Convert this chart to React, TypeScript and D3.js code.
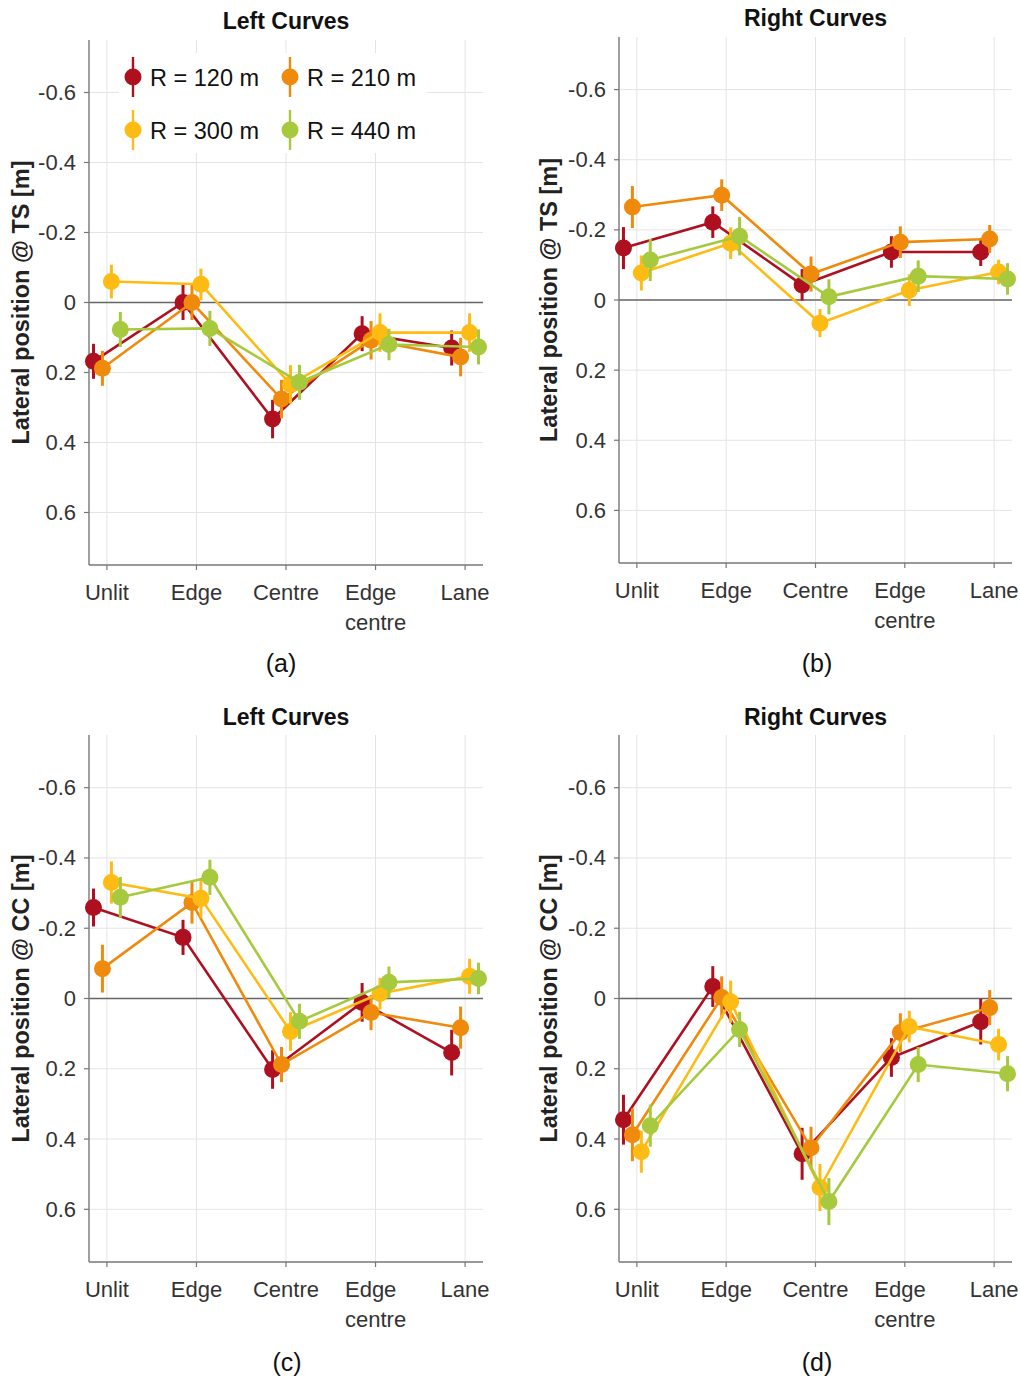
import React from "react";
import * as d3 from "d3";

// ---------- data ----------
const categories: string[][] = [["Unlit"], ["Edge"], ["Centre"], ["Edge", "centre"], ["Lane"]];
const seriesNames = ["R = 120 m", "R = 210 m", "R = 300 m", "R = 440 m"];
const seriesColors = ["#AE1020", "#EF8A0C", "#FDBB14", "#A6C93E"];
const yTicks = [-0.6, -0.4, -0.2, 0, 0.2, 0.4, 0.6];

// Lateral position @ TS, left curves (rows: R120, R210, R300, R440; cols: categories)
const leftTS = [
  [0.168, 0.0, 0.333, 0.089, 0.13],
  [0.188, 0.0, 0.276, 0.108, 0.156],
  [-0.06, -0.052, 0.234, 0.086, 0.086],
  [0.077, 0.074, 0.228, 0.12, 0.127],
];
const leftTSErr = [
  [0.05, 0.05, 0.055, 0.05, 0.05],
  [0.05, 0.05, 0.055, 0.055, 0.055],
  [0.048, 0.045, 0.055, 0.055, 0.055],
  [0.05, 0.05, 0.05, 0.045, 0.05],
];

// Lateral position @ TS, right curves
const rightTS = [
  [-0.148, -0.222, -0.043, -0.137, -0.137],
  [-0.265, -0.299, -0.074, -0.165, -0.174],
  [-0.077, -0.162, 0.066, -0.028, -0.08],
  [-0.114, -0.182, -0.009, -0.068, -0.06],
];
const rightTSErr = [
  [0.06, 0.045, 0.045, 0.045, 0.04],
  [0.06, 0.045, 0.05, 0.045, 0.04],
  [0.05, 0.045, 0.04, 0.045, 0.035],
  [0.06, 0.055, 0.05, 0.045, 0.045],
];

// Lateral position @ CC, left curves
const leftCC = [
  [-0.259, -0.174, 0.202, 0.011, 0.154],
  [-0.085, -0.273, 0.188, 0.04, 0.083],
  [-0.33, -0.285, 0.094, -0.014, -0.063],
  [-0.288, -0.345, 0.065, -0.046, -0.057],
];
const leftCCErr = [
  [0.054, 0.05, 0.055, 0.055, 0.065],
  [0.068, 0.06, 0.05, 0.05, 0.06],
  [0.06, 0.055, 0.055, 0.045, 0.05],
  [0.058, 0.05, 0.05, 0.045, 0.045],
];

// Lateral position @ CC, right curves
const rightCC = [
  [0.345, -0.034, 0.442, 0.168, 0.066],
  [0.388, -0.003, 0.425, 0.097, 0.026],
  [0.436, 0.009, 0.538, 0.08, 0.131],
  [0.362, 0.088, 0.578, 0.188, 0.214],
];
const rightCCErr = [
  [0.071, 0.058, 0.074, 0.055, 0.065],
  [0.075, 0.06, 0.06, 0.055, 0.05],
  [0.06, 0.06, 0.067, 0.045, 0.045],
  [0.06, 0.05, 0.067, 0.05, 0.05],
];

// ---------- drawing ----------
const FONT = "'Liberation Sans', Arial, Helvetica, sans-serif";
const offsets = [-0.15, -0.05, 0.05, 0.15];

let measureCtx: CanvasRenderingContext2D | null = null;
function textWidth(s: string, size: number): number {
  if (typeof document !== "undefined") {
    if (!measureCtx) measureCtx = document.createElement("canvas").getContext("2d");
    if (measureCtx) {
      measureCtx.font = `${size}px ${FONT}`;
      return measureCtx.measureText(s).width;
    }
  }
  return s.length * size * 0.5;
}

interface PanelProps {
  left: number;
  right: number;
  top: number;
  bottom: number;
  title: string;
  titleY: number;
  yLabel: string;
  yLabelX: number;
  caption: string;
  captionX: number;
  captionY: number;
  means: number[][];
  errs: number[][];
  legend?: boolean;
}

function Panel(p: PanelProps) {
  const x = d3.scaleLinear().domain([0.8, 5.2]).range([p.left, p.right]);
  const y = d3.scaleLinear().domain([-0.75, 0.75]).range([p.top, p.bottom]);
  const midY = (p.top + p.bottom) / 2;

  return (
    <g>
      {/* grid */}
      {yTicks.map((t) => (
        <line key={"gy" + t} x1={p.left} x2={p.right} y1={y(t)} y2={y(t)} stroke="#e4e4e4" strokeWidth={1} />
      ))}
      {categories.map((_, i) => (
        <line key={"gx" + i} x1={x(i + 1)} x2={x(i + 1)} y1={p.top} y2={p.bottom} stroke="#e4e4e4" strokeWidth={1} />
      ))}
      {/* zero line */}
      <line x1={p.left} x2={p.right} y1={y(0)} y2={y(0)} stroke="#666" strokeWidth={1.7} />
      {/* axes */}
      <line x1={p.left} x2={p.left} y1={p.top} y2={p.bottom} stroke="#777" strokeWidth={1.4} />
      <line x1={p.left} x2={p.right} y1={p.bottom} y2={p.bottom} stroke="#777" strokeWidth={1.4} />
      {yTicks.map((t) => (
        <g key={"yt" + t}>
          <line x1={p.left - 5} x2={p.left} y1={y(t)} y2={y(t)} stroke="#777" strokeWidth={1.2} />
          <text x={p.left - 13} y={y(t) + 7.5} textAnchor="end" fontSize={22} fill="#333" fontFamily={FONT}>
            {t === 0 ? "0" : t.toFixed(1)}
          </text>
        </g>
      ))}
      {categories.map((c, i) => {
        const maxW = Math.max(...c.map((s) => textWidth(s, 22)));
        const multi = c.length > 1;
        return (
          <g key={"xt" + i}>
            <line x1={x(i + 1)} x2={x(i + 1)} y1={p.bottom} y2={p.bottom + 5} stroke="#777" strokeWidth={1.2} />
            {c.map((s, j) => (
              <text
                key={j}
                x={multi ? x(i + 1) - maxW / 2 : x(i + 1)}
                y={p.bottom + 35 + j * 30}
                textAnchor={multi ? "start" : "middle"}
                fontSize={22}
                fill="#333"
                fontFamily={FONT}
              >
                {s}
              </text>
            ))}
          </g>
        );
      })}
      {/* title */}
      <text x={x(3)} y={p.titleY} textAnchor="middle" fontSize={23} fontWeight="bold" fill="#111" fontFamily={FONT}>
        {p.title}
      </text>
      {/* y label */}
      <text
        transform={`translate(${p.yLabelX},${midY}) rotate(-90)`}
        textAnchor="middle"
        fontSize={23.5}
        fontWeight="bold"
        fill="#222"
        fontFamily={FONT}
      >
        {p.yLabel}
      </text>
      {/* caption */}
      <text x={p.captionX} y={p.captionY} textAnchor="middle" fontSize={25} fill="#111" fontFamily={FONT}>
        {p.caption}
      </text>
      {/* series */}
      {p.means.map((vals, s) => {
        const off = offsets[s];
        const lx = d3
          .line<number>()
          .x((_, i) => x(i + 1 + off))
          .y((d) => y(d));
        return (
          <g key={"s" + s}>
            <path d={lx(vals) || ""} fill="none" stroke={seriesColors[s]} strokeWidth={2.6} />
            {vals.map((v, i) => (
              <g key={i}>
                <line
                  x1={x(i + 1 + off)}
                  x2={x(i + 1 + off)}
                  y1={y(v - p.errs[s][i])}
                  y2={y(v + p.errs[s][i])}
                  stroke={seriesColors[s]}
                  strokeWidth={3}
                />
                <circle cx={x(i + 1 + off)} cy={y(v)} r={8.5} fill={seriesColors[s]} />
              </g>
            ))}
          </g>
        );
      })}
      {/* legend */}
      {p.legend && (
        <g>
          <rect x={119} y={53} width={308} height={100} fill="#fff" />
          {seriesNames.map((n, s) => {
            const cx = s % 2 === 0 ? 133 : 290;
            const cy = s < 2 ? 77 : 130;
            return (
              <g key={"lg" + s}>
                <line x1={cx} x2={cx} y1={cy - 20} y2={cy + 20} stroke={seriesColors[s]} strokeWidth={2.4} />
                <circle cx={cx} cy={cy} r={8.5} fill={seriesColors[s]} />
                <text x={cx + 17} y={cy + 8.5} fontSize={23.5} fill="#111" fontFamily={FONT}>
                  {n}
                </text>
              </g>
            );
          })}
        </g>
      )}
    </g>
  );
}

export default function App() {
  return (
    <svg
      width={1020}
      height={1377}
      style={{ position: "absolute", left: 0, top: 0, background: "#fff" }}
    >
      <rect width={1020} height={1377} fill="#fff" />
      <Panel
        left={89}
        right={483}
        top={40}
        bottom={565}
        title="Left Curves"
        titleY={29}
        yLabel="Lateral position @ TS [m]"
        yLabelX={29}
        caption="(a)"
        captionX={281}
        captionY={672}
        means={leftTS}
        errs={leftTSErr}
        legend
      />
      <Panel
        left={619}
        right={1012}
        top={37}
        bottom={563}
        title="Right Curves"
        titleY={26}
        yLabel="Lateral position @ TS [m]"
        yLabelX={557}
        caption="(b)"
        captionX={817}
        captionY={672}
        means={rightTS}
        errs={rightTSErr}
      />
      <Panel
        left={89}
        right={483}
        top={735}
        bottom={1262}
        title="Left Curves"
        titleY={725}
        yLabel="Lateral position @ CC [m]"
        yLabelX={29}
        caption="(c)"
        captionX={287}
        captionY={1371}
        means={leftCC}
        errs={leftCCErr}
      />
      <Panel
        left={619}
        right={1012}
        top={735}
        bottom={1262}
        title="Right Curves"
        titleY={725}
        yLabel="Lateral position @ CC [m]"
        yLabelX={557}
        caption="(d)"
        captionX={817}
        captionY={1371}
        means={rightCC}
        errs={rightCCErr}
      />
    </svg>
  );
}
